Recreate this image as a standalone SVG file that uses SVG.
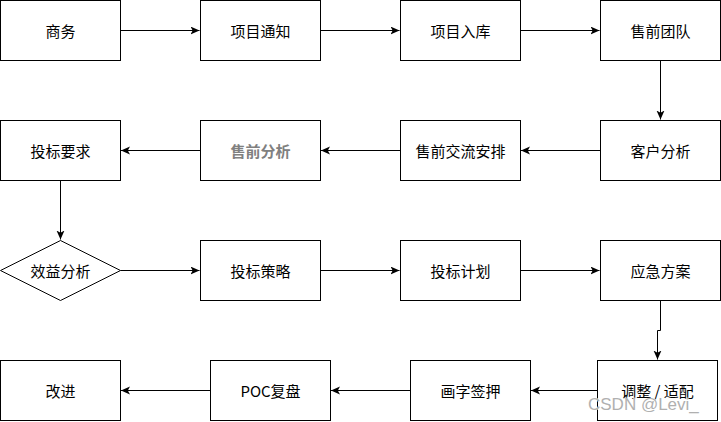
<svg xmlns="http://www.w3.org/2000/svg" width="721" height="422" viewBox="0 0 721 422">
<style>
.box{fill:#fff;stroke:#000;stroke-width:1}
.t{font-family:"Noto Sans CJK SC","Liberation Sans",sans-serif;font-size:15px;fill:#000;text-anchor:middle;dominant-baseline:central}
.b{font-weight:bold;fill:#808080}
.c{fill:none;stroke:#000;stroke-width:1;marker-end:url(#arr)}
.wm{font-family:"Liberation Sans","Noto Sans",sans-serif;font-size:17px;fill:#b0b0b0;stroke:#fff;stroke-width:0.6;paint-order:stroke}
</style>
<defs>
<marker id="arr" markerUnits="userSpaceOnUse" markerWidth="10" markerHeight="10" refX="9" refY="4" orient="auto">
<path d="M0,0 L9,4 L0,8 L2.2,4 Z" fill="#000"/>
</marker>
</defs>
<rect width="721" height="422" fill="#fff"/>
<g id="connectors">
<path class="c" d="M120.5,30.5 H199.5"/>
<path class="c" d="M320.5,30.5 H399.5"/>
<path class="c" d="M520.5,30.5 H599.5"/>
<path class="c" d="M660.5,60.5 V119.5"/>
<path class="c" d="M600.5,150.5 H521"/>
<path class="c" d="M400.5,150.5 H321"/>
<path class="c" d="M200.5,150.5 H121"/>
<path class="c" d="M60.5,180.5 V239.5"/>
<path class="c" d="M120.5,270.5 H199.5"/>
<path class="c" d="M320.5,270.5 H399.5"/>
<path class="c" d="M520.5,270.5 H599.5"/>
<path class="c" d="M660.5,300.5 V330.5 H657.5 V359.5"/>
<path class="c" d="M597.5,390.5 H531"/>
<path class="c" d="M410.5,390.5 H331"/>
<path class="c" d="M210.5,390.5 H121"/>
</g>
<g id="n1"><rect class="box" x="0.5" y="0.5" width="120" height="60"/><text class="t" x="60.5" y="30.5">商务</text></g>
<g id="n2"><rect class="box" x="200.5" y="0.5" width="120" height="60"/><text class="t" x="260.5" y="30.5">项目通知</text></g>
<g id="n3"><rect class="box" x="400.5" y="0.5" width="120" height="60"/><text class="t" x="460.5" y="30.5">项目入库</text></g>
<g id="n4"><rect class="box" x="600.5" y="0.5" width="120" height="60"/><text class="t" x="660.5" y="30.5">售前团队</text></g>
<g id="n5"><rect class="box" x="600.5" y="120.5" width="120" height="60"/><text class="t" x="660.5" y="150.5">客户分析</text></g>
<g id="n6"><rect class="box" x="400.5" y="120.5" width="120" height="60"/><text class="t" x="460.5" y="150.5">售前交流安排</text></g>
<g id="n7"><rect class="box" x="200.5" y="120.5" width="120" height="60"/><text class="t b" x="260.5" y="150.5">售前分析</text></g>
<g id="n8"><rect class="box" x="0.5" y="120.5" width="120" height="60"/><text class="t" x="60.5" y="150.5">投标要求</text></g>
<g id="n9"><polygon class="box" points="60.5,240.5 120.5,270.5 60.5,300.5 0.5,270.5"/><text class="t" x="60.5" y="270.5">效益分析</text></g>
<g id="n10"><rect class="box" x="200.5" y="240.5" width="120" height="60"/><text class="t" x="260.5" y="270.5">投标策略</text></g>
<g id="n11"><rect class="box" x="400.5" y="240.5" width="120" height="60"/><text class="t" x="460.5" y="270.5">投标计划</text></g>
<g id="n12"><rect class="box" x="600.5" y="240.5" width="120" height="60"/><text class="t" x="660.5" y="270.5">应急方案</text></g>
<g id="n13"><rect class="box" x="597.5" y="360.5" width="120" height="60"/><text class="t" x="657.5" y="390.5">调整 / 适配</text></g>
<g id="n14"><rect class="box" x="410.5" y="360.5" width="120" height="60"/><text class="t" x="470.5" y="390.5">画字签押</text></g>
<g id="n15"><rect class="box" x="210.5" y="360.5" width="120" height="60"/><text class="t" x="270.5" y="390.5">POC复盘</text></g>
<g id="n16"><rect class="box" x="0.5" y="360.5" width="120" height="60"/><text class="t" x="60.5" y="390.5">改进</text></g>
<text class="wm" x="588" y="410">CSDN @Levi_</text>
</svg>
